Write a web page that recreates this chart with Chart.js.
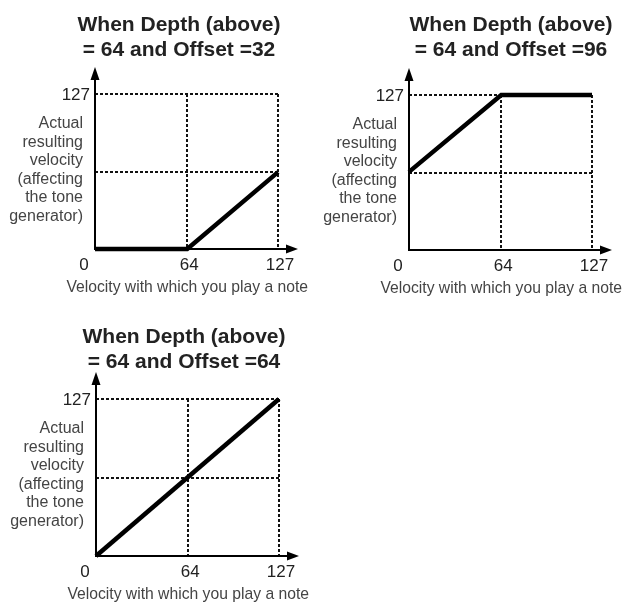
<!DOCTYPE html>
<html>
<head>
<meta charset="utf-8">
<script src="https://cdn.jsdelivr.net/npm/chart.js@4"></script>
<style>
  html, body { margin: 0; padding: 0; background: #fff; }
  body { width: 626px; height: 603px; position: relative; overflow: hidden; }
  .panel { position: absolute; width: 313px; height: 303px; }
</style>
</head>
<body>
<div class="panel" style="left:0;top:0"><canvas id="c32" width="313" height="303"></canvas></div>
<div class="panel" style="left:313px;top:0"><canvas id="c96" width="313" height="303"></canvas></div>
<div class="panel" style="left:0;top:300px"><canvas id="c64" width="313" height="303"></canvas></div>
<script>
/* ===== Datos ===== */
// velocidad tocada (x) -> velocidad resultante (y), Depth = 64
const offset32X = [0, 64, 127];
const offset32Y = [0, 0, 63];
const offset96X = [0, 64, 127];
const offset96Y = [64, 127, 127];
const offset64X = [0, 127];
const offset64Y = [0, 127];

const xTicks = [0, 64, 127];
const xTickLabels = ['0', '64', '127'];
const yTicks = [0, 63.5, 127];
const yTickLabels = ['', '', '127'];

const yDesc = ['Actual', 'resulting', 'velocity', '(affecting', 'the tone', 'generator)'];
const xDesc = 'Velocity with which you play a note';

const FONT = '"Liberation Sans", Arial, Helvetica, sans-serif';

/* ===== Ejes con flecha, rótulos y título ===== */
const panelDeco = {
  id: 'panelDeco',
  beforeDatasetsDraw(chart) {
    const { ctx, chartArea: a } = chart;
    ctx.save();
    ctx.strokeStyle = '#000';
    ctx.fillStyle = '#000';
    ctx.lineWidth = 2;
    ctx.beginPath();
    ctx.moveTo(a.left, a.bottom + 1);
    ctx.lineTo(a.left, a.top - 18);
    ctx.moveTo(a.left - 1, a.bottom);
    ctx.lineTo(a.right + 10, a.bottom);
    ctx.stroke();
    // flecha vertical
    ctx.beginPath();
    ctx.moveTo(a.left, a.top - 27);
    ctx.lineTo(a.left - 4.5, a.top - 14);
    ctx.lineTo(a.left + 4.5, a.top - 14);
    ctx.closePath();
    ctx.fill();
    // flecha horizontal
    ctx.beginPath();
    ctx.moveTo(a.right + 20, a.bottom);
    ctx.lineTo(a.right + 8, a.bottom - 4.5);
    ctx.lineTo(a.right + 8, a.bottom + 4.5);
    ctx.closePath();
    ctx.fill();
    ctx.restore();
  },
  afterDraw(chart, args, opts) {
    const { ctx, chartArea: a, scales: { x, y } } = chart;
    ctx.save();
    // título
    ctx.fillStyle = '#222';
    ctx.font = 'bold 21px ' + FONT;
    ctx.textAlign = 'center';
    ctx.textBaseline = 'alphabetic';
    opts.title.forEach((t, i) => ctx.fillText(t, opts.titleX, opts.titleY + i * 25));

    // marcas del eje x (el 0 queda a la izquierda del origen)
    ctx.fillStyle = '#222';
    ctx.font = '17px ' + FONT;
    xTicks.forEach((v, i) => {
      const px = x.getPixelForValue(v) + (v === 0 ? -11 : 2);
      ctx.fillText(xTickLabels[i], px, a.bottom + 21);
    });
    // marcas del eje y
    ctx.textAlign = 'right';
    ctx.textBaseline = 'middle';
    yTicks.forEach((v, i) => {
      if (yTickLabels[i]) ctx.fillText(yTickLabels[i], a.left - 5, y.getPixelForValue(v) + 1);
    });

    // descripción del eje y
    ctx.fillStyle = '#444';
    ctx.font = '16px ' + FONT;
    ctx.textBaseline = 'alphabetic';
    yDesc.forEach((t, i) => ctx.fillText(t, a.left - 12, a.top + 34 + i * 18.6));

    // descripción del eje x
    ctx.font = '15.7px ' + FONT;
    ctx.textAlign = 'center';
    ctx.fillText(xDesc, x.getPixelForValue(64), a.bottom + 43);
    ctx.restore();
  }
};

function gridColor(c) {
  return (c.tick && c.tick.value === 0) ? 'rgba(0,0,0,0)' : '#111';
}

function makePanel(id, xs, ys, title, pad, titleX, titleY) {
  return new Chart(document.getElementById(id), {
    type: 'line',
    data: {
      datasets: [{
        data: xs.map((v, i) => ({ x: v, y: ys[i] })),
        borderColor: '#000',
        borderWidth: 4.5,
        pointRadius: 0,
        tension: 0,
        clip: false,
        borderJoinStyle: 'miter'
      }]
    },
    plugins: [panelDeco],
    options: {
      responsive: false,
      devicePixelRatio: 1,
      animation: false,
      events: [],
      layout: { padding: pad },
      plugins: {
        legend: { display: false },
        tooltip: { enabled: false },
        panelDeco: { title, titleX, titleY }
      },
      scales: {
        x: {
          type: 'linear', min: 0, max: 127,
          afterBuildTicks: s => { s.ticks = xTicks.map(v => ({ value: v })); },
          ticks: { display: false },
          grid: { drawTicks: false, lineWidth: 2, color: gridColor },
          border: { display: false, dash: [3, 2] }
        },
        y: {
          type: 'linear', min: 0, max: 127,
          afterBuildTicks: s => { s.ticks = yTicks.map(v => ({ value: v })); },
          ticks: { display: false },
          grid: { drawTicks: false, lineWidth: 2, color: gridColor },
          border: { display: false, dash: [3, 2] }
        }
      }
    }
  });
}

makePanel('c32', offset32X, offset32Y, ['When Depth (above)', '= 64 and Offset =32'],
  { left: 95, top: 94, right: 35, bottom: 54 }, 179, 31);
makePanel('c96', offset96X, offset96Y, ['When Depth (above)', '= 64 and Offset =96'],
  { left: 96, top: 95, right: 34, bottom: 53 }, 198, 31);
makePanel('c64', offset64X, offset64Y, ['When Depth (above)', '= 64 and Offset =64'],
  { left: 96, top: 99, right: 34, bottom: 47 }, 184, 43);
</script>
</body>
</html>
